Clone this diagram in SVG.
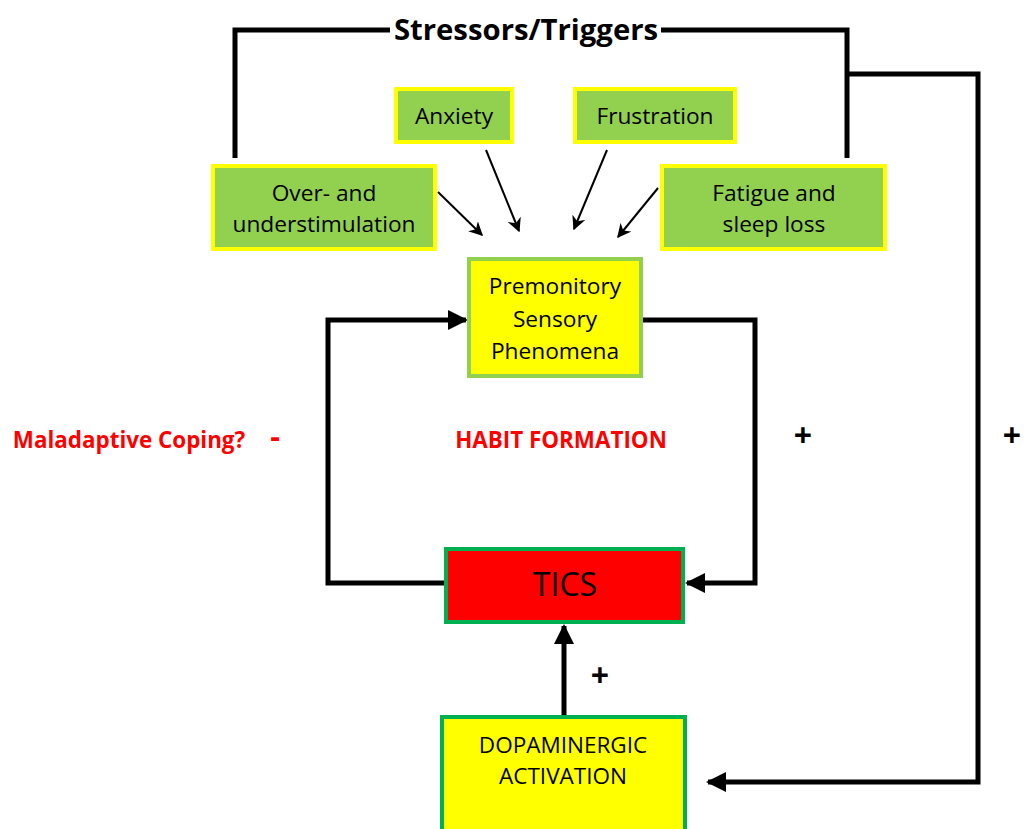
<svg xmlns="http://www.w3.org/2000/svg" width="1024" height="829" viewBox="0 0 1024 829">
<style>
text{font-family:"Open Sans","Liberation Sans",sans-serif;text-anchor:middle;fill:#000}
.g{fill:#92d050;stroke:#ffff00;stroke-width:4}
.y{fill:#ffff00;stroke:#92d050;stroke-width:4}
.y2{fill:#ffff00;stroke:#00b050;stroke-width:4}
.r{fill:#ff0000;stroke:#00b050;stroke-width:4}
.t{font-size:22.7px}
.thick{fill:none;stroke:#000;stroke-width:5}
.thin{fill:none;stroke:#000;stroke-width:2}
.red{fill:#ff0000;font-weight:bold;font-size:22.4px}
.plus{font-weight:bold;font-size:32px}
</style>
<defs>
<marker id="big" viewBox="0 0 10 10" refX="9" refY="5" markerWidth="4" markerHeight="4" orient="auto" markerUnits="strokeWidth"><path d="M0,0 L10,5 L0,10 z" fill="#000"/></marker>
<marker id="small" viewBox="0 0 10 10" refX="9" refY="5" markerWidth="7" markerHeight="7" orient="auto" markerUnits="strokeWidth"><path d="M0,0 L10,5 L0,10 L3,5 z" fill="#000"/></marker>
</defs>
<g id="connectors">
<polyline class="thick" points="235,158 235,30 390,30"/>
<polyline class="thick" points="661,30 847,30 847,158"/>
<polyline class="thick" points="847,74 978,74 978,782 708,782" marker-end="url(#big)"/>
<polyline class="thick" points="642,320 755,320 755,583 687,583" marker-end="url(#big)"/>
<polyline class="thick" points="445,583 328,583 328,320 466,320" marker-end="url(#big)"/>
<line class="thick" x1="564" y1="716" x2="564" y2="626" marker-end="url(#big)"/>
<line class="thin" x1="438" y1="192" x2="482" y2="235" marker-end="url(#small)"/>
<line class="thin" x1="486" y1="150" x2="519" y2="231" marker-end="url(#small)"/>
<line class="thin" x1="607" y1="150" x2="574" y2="229" marker-end="url(#small)"/>
<line class="thin" x1="658" y1="188" x2="618" y2="237" marker-end="url(#small)"/>
</g>
<g id="stressors"><text x="526" y="40" style="font-size:29.3px;font-weight:bold">Stressors/Triggers</text></g>
<g id="anxiety"><rect class="g" x="396" y="89" width="116" height="53"/><text class="t" x="454" y="124">Anxiety</text></g>
<g id="frustration"><rect class="g" x="575" y="89" width="160" height="53"/><text class="t" x="655" y="124">Frustration</text></g>
<g id="over"><rect class="g" x="213" y="166" width="222" height="83"/><text class="t" x="324" y="201">Over- and</text><text class="t" x="324" y="232">understimulation</text></g>
<g id="fatigue"><rect class="g" x="662" y="166" width="223" height="83"/><text class="t" x="774" y="201">Fatigue and</text><text class="t" x="774" y="232">sleep loss</text></g>
<g id="psp"><rect class="y" x="469" y="259" width="172" height="117"/><text class="t" x="555" y="294">Premonitory</text><text class="t" x="555" y="327">Sensory</text><text class="t" x="555" y="359">Phenomena</text></g>
<g id="tics"><rect class="r" x="446" y="549" width="237" height="73"/><text x="565" y="596" style="font-size:32px">TICS</text></g>
<g id="dopa"><rect class="y2" x="442" y="717" width="243" height="120"/><text x="563" y="753" style="font-size:22.5px">DOPAMINERGIC</text><text x="563" y="784" style="font-size:22.5px">ACTIVATION</text></g>
<g id="labels">
<text class="red" x="561" y="448">HABIT FORMATION</text>
<text class="red" x="129" y="448">Maladaptive Coping?</text>
<text class="red" x="275" y="447" style="font-size:30px">-</text>
<text class="plus" x="803" y="447">+</text>
<text class="plus" x="1012" y="447">+</text>
<text class="plus" x="600" y="687">+</text>
</g>
</svg>
